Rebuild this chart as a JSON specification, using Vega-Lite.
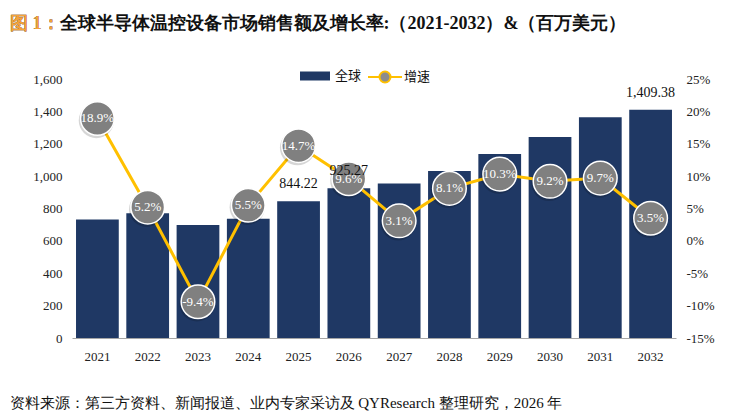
{
  "$schema": "https://vega.github.io/schema/vega-lite/v6.json",
  "width": 604,
  "height": 259,
  "autosize": {"type": "none"},
  "padding": {"left": 72, "top": 79, "right": 60, "bottom": 81},
  "background": "#ffffff",
  "config": {
    "view": {"stroke": null},
    "locale": {
      "number": {"decimal": ".", "thousands": ",", "grouping": [3], "currency": ["$", ""], "minus": "-"}
    }
  },
  "title": {
    "text": "图 1：全球半导体温控设备市场销售额及增长率:（2021-2032）&（百万美元）",
    "subtitle": "图 1：",
    "anchor": "start",
    "frame": "group",
    "dx": -62,
    "offset": 33,
    "font": "Liberation Serif",
    "fontSize": 18,
    "fontWeight": "bold",
    "color": "#111111",
    "subtitleFont": "Liberation Serif",
    "subtitleFontSize": 18,
    "subtitleFontWeight": "bold",
    "subtitleColor": "#F5A33A",
    "subtitlePadding": -18
  },
  "data": {
    "values": [
      {"year": "2021", "sales": 732, "growth": 0.189},
      {"year": "2022", "sales": 770, "growth": 0.052},
      {"year": "2023", "sales": 698, "growth": -0.094},
      {"year": "2024", "sales": 736, "growth": 0.055},
      {"year": "2025", "sales": 844.22, "growth": 0.147},
      {"year": "2026", "sales": 925.27, "growth": 0.096},
      {"year": "2027", "sales": 954, "growth": 0.031},
      {"year": "2028", "sales": 1031, "growth": 0.081},
      {"year": "2029", "sales": 1137, "growth": 0.103},
      {"year": "2030", "sales": 1242, "growth": 0.092},
      {"year": "2031", "sales": 1363, "growth": 0.097},
      {"year": "2032", "sales": 1409.38, "growth": 0.035}
    ]
  },
  "encoding": {
    "x": {
      "field": "year",
      "type": "ordinal",
      "scale": {"paddingInner": 0.15, "paddingOuter": 0.08},
      "axis": {
        "labelAngle": 0,
        "labelFont": "Liberation Serif",
        "labelFontSize": 13,
        "labelColor": "#222222",
        "labelPadding": 12,
        "ticks": false,
        "domainColor": "#A6A6A6",
        "domainWidth": 1,
        "title": "资料来源：第三方资料、新闻报道、业内专家采访及 QYResearch 整理研究，2026 年",
        "titleFont": "Liberation Serif",
        "titleFontSize": 15,
        "titleFontWeight": "normal",
        "titleColor": "#111111",
        "titleAnchor": "start",
        "titleAlign": "left",
        "titleBaseline": "middle",
        "titleX": -63,
        "titleY": 64
      }
    }
  },
  "layer": [
    {
      "mark": {"type": "bar", "color": "#1F3864"},
      "encoding": {
        "y": {
          "field": "sales",
          "type": "quantitative",
          "scale": {"domain": [0, 1600]},
          "axis": {
            "orient": "left",
            "values": [0, 200, 400, 600, 800, 1000, 1200, 1400, 1600],
            "format": ",.0f",
            "grid": false,
            "ticks": false,
            "domain": false,
            "labelFont": "Liberation Serif",
            "labelFontSize": 13,
            "labelColor": "#222222",
            "labelPadding": 10,
            "title": null
          }
        },
        "fill": {
          "datum": "全球",
          "scale": {"range": ["#1F3864"]},
          "legend": {
            "orient": "none",
            "legendX": 233,
            "legendY": -13,
            "title": null,
            "symbolType": "M-1.5,-0.45H1.5V0.45H-1.5Z",
            "symbolSize": 400,
            "symbolStrokeWidth": 0,
            "labelOffset": 10,
            "labelFont": "Noto Sans CJK SC",
            "labelFontSize": 13,
            "labelColor": "#111111"
          }
        }
      }
    },
    {
      "encoding": {
        "y": {
          "field": "growth",
          "type": "quantitative",
          "scale": {"domain": [-0.15, 0.25]},
          "axis": {
            "orient": "right",
            "values": [-0.15, -0.1, -0.05, 0, 0.05, 0.1, 0.15, 0.2, 0.25],
            "format": ".0%",
            "grid": false,
            "ticks": false,
            "domain": false,
            "labelFont": "Liberation Serif",
            "labelFontSize": 13,
            "labelColor": "#222222",
            "labelPadding": 10,
            "title": null
          }
        }
      },
      "layer": [
        {
          "mark": {"type": "line", "strokeWidth": 3},
          "encoding": {
            "stroke": {
              "datum": "增速",
              "scale": {"range": ["#FFC000"]},
              "legend": {
                "orient": "none",
                "legendX": 302,
                "legendY": -13,
                "title": null,
                "symbolType": "M-1.7,0H-0.55M0.55,0H1.7M-0.55,0A0.55,0.55 0 1,1 0.55,0A0.55,0.55 0 1,1 -0.55,0",
                "symbolSize": 400,
                "symbolStrokeWidth": 2,
                "labelOffset": 8,
                "labelFont": "Noto Sans CJK SC",
                "labelFontSize": 13,
                "labelColor": "#111111",
                "encode": {
                  "symbols": {"update": {"fill": {"value": "#8C8C8C"}}}
                }
              }
            }
          }
        },
        {
          "mark": {
            "type": "circle",
            "size": 1250,
            "color": "#000000",
            "opacity": 0.16,
            "xOffset": -1,
            "yOffset": 2
          }
        },
        {
          "mark": {
            "type": "circle",
            "size": 1130,
            "color": "#808080",
            "opacity": 1,
            "stroke": "#ffffff",
            "strokeWidth": 1.5
          }
        },
        {
          "mark": {
            "type": "text",
            "font": "Liberation Serif",
            "fontSize": 13,
            "color": "#ffffff"
          },
          "encoding": {
            "text": {"field": "growth", "type": "quantitative", "format": ".1%"}
          }
        }
      ]
    },
    {
      "transform": [
        {"filter": "datum.year == '2025' || datum.year == '2026' || datum.year == '2032'"}
      ],
      "mark": {
        "type": "text",
        "baseline": "bottom",
        "dy": -10,
        "font": "Liberation Serif",
        "fontSize": 14,
        "color": "#111111"
      },
      "encoding": {
        "y": {
          "field": "sales",
          "type": "quantitative",
          "scale": {"domain": [0, 1600]},
          "axis": null
        },
        "text": {"field": "sales", "type": "quantitative", "format": ",.2f"}
      }
    }
  ],
  "resolve": {"scale": {"y": "independent"}}
}
